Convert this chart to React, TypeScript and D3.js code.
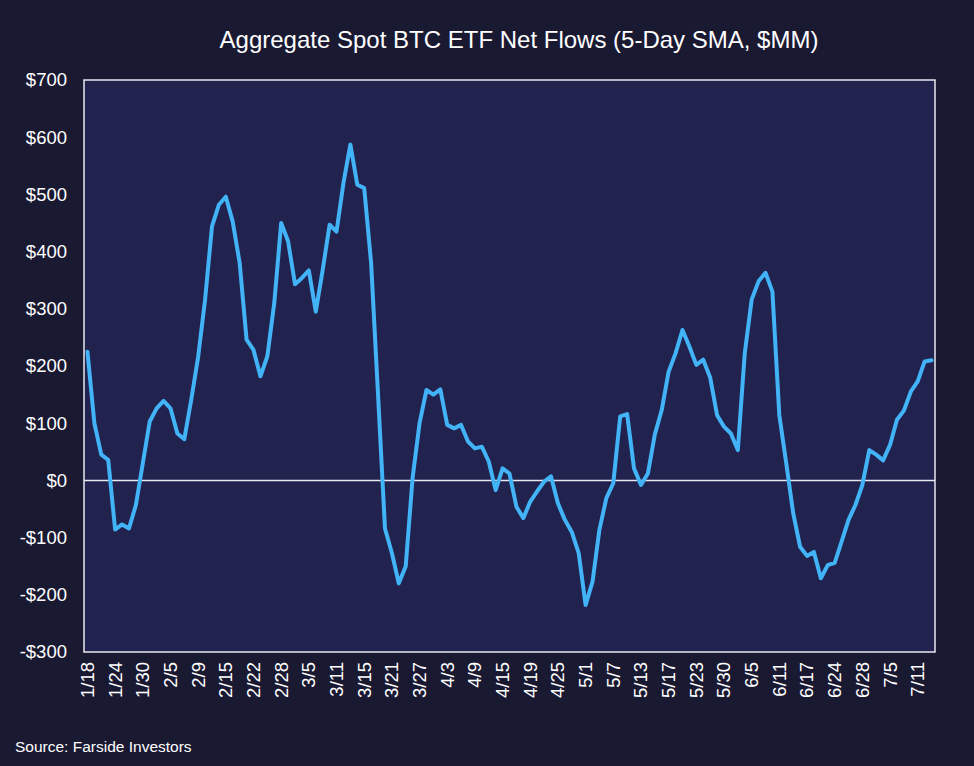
import React from "react";
import * as d3 from "d3";

const dates: string[] = [
  "1/18","1/19","1/22","1/23","1/24","1/25","1/26","1/29","1/30","1/31",
  "2/1","2/2","2/5","2/6","2/7","2/8","2/9","2/12","2/13","2/14","2/15","2/16","2/20","2/21","2/22","2/23","2/26","2/27","2/28","2/29",
  "3/1","3/4","3/5","3/6","3/7","3/8","3/11","3/12","3/13","3/14","3/15","3/18","3/19","3/20","3/21","3/22","3/25","3/26","3/27","3/28",
  "4/1","4/2","4/3","4/4","4/5","4/8","4/9","4/10","4/11","4/12","4/15","4/16","4/17","4/18","4/19","4/22","4/23","4/24","4/25","4/26","4/29","4/30",
  "5/1","5/2","5/3","5/6","5/7","5/8","5/9","5/10","5/13","5/14","5/15","5/16","5/17","5/20","5/21","5/22","5/23","5/24","5/28","5/29","5/30","5/31",
  "6/3","6/4","6/5","6/6","6/7","6/10","6/11","6/12","6/13","6/14","6/17","6/18","6/20","6/21","6/24","6/25","6/26","6/27","6/28",
  "7/1","7/2","7/3","7/5","7/8","7/9","7/10","7/11","7/12","7/15",
];

const netFlowsSMA: number[] = [
  225, 100, 45, 36, -86, -77, -84, -43, 30, 103,
  126, 139, 126, 82, 72, 141, 216, 316, 444, 482,
  496, 452, 380, 246, 228, 182, 217, 310, 450, 418,
  343, 354, 367, 295, 368, 447, 435, 520, 587, 517,
  511, 380, 150, -84, -127, -180, -150, 5, 100, 158,
  150, 159, 97, 91, 97, 68, 56, 59, 33, -17,
  21, 12, -46, -66, -37, -19, -2, 7, -40, -69,
  -90, -127, -218, -177, -86, -31, -5, 112, 116, 21,
  -8, 12, 80, 123, 190, 222, 263, 234, 202, 211,
  180, 114, 94, 82, 53, 222, 316, 348, 363, 330,
  114, 30, -57, -116, -132, -125, -171, -148, -144, -107,
  -69, -43, -8, 53, 45, 35, 62, 106, 122, 155,
  173, 208, 210,
];

const xTickLabels: string[] = [
  "1/18","1/24","1/30","2/5","2/9","2/15","2/22","2/28","3/5","3/11","3/15",
  "3/21","3/27","4/3","4/9","4/15","4/19","4/25","5/1","5/7","5/13","5/17",
  "5/23","5/30","6/5","6/11","6/17","6/24","6/28","7/5","7/11",
];

const yTicks: number[] = [-300, -200, -100, 0, 100, 200, 300, 400, 500, 600, 700];

const W = 974;
const H = 766;
const plot = { left: 84, right: 935, top: 80, bottom: 652 };
const FONT = "'Liberation Sans', Arial, sans-serif";

export default function App() {
  const x = d3
    .scalePoint<string>()
    .domain(dates)
    .range([plot.left, plot.right])
    .padding(0.5);
  const y = d3.scaleLinear().domain([-300, 700]).range([plot.bottom, plot.top]);

  const line = d3
    .line<number>()
    .x((_, i) => x(dates[i]) as number)
    .y((d) => y(d));

  const fmt = (v: number) => (v < 0 ? `-$${Math.abs(v)}` : `$${v}`);

  return (
    <svg
      width={W}
      height={H}
      style={{ position: "fixed", left: 0, top: 0, display: "block" }}
      fontFamily={FONT}
    >
      <rect x={0} y={0} width={W} height={H} fill="#1a1932" />
      <rect
        x={plot.left}
        y={plot.top}
        width={plot.right - plot.left}
        height={plot.bottom - plot.top}
        fill="#21224e"
        stroke="#e8e8f0"
        strokeWidth={1.5}
      />
      <line
        x1={plot.left}
        x2={plot.right}
        y1={y(0)}
        y2={y(0)}
        stroke="#e8e8f0"
        strokeWidth={1.5}
      />
      <path
        d={line(netFlowsSMA) || ""}
        fill="none"
        stroke="#41b3f6"
        strokeWidth={4}
        strokeLinejoin="round"
        strokeLinecap="round"
      />
      <text
        x={519}
        y={48}
        textAnchor="middle"
        fill="#ffffff"
        fontSize={24}
      >
        Aggregate Spot BTC ETF Net Flows (5-Day SMA, $MM)
      </text>
      {yTicks.map((t) => (
        <text
          key={t}
          x={67}
          y={y(t)}
          dy="0.35em"
          textAnchor="end"
          fill="#ffffff"
          fontSize={18.5}
        >
          {fmt(t)}
        </text>
      ))}
      {xTickLabels.map((d) => (
        <text
          key={d}
          transform={`translate(${x(d)},${662}) rotate(-90)`}
          dy="0.35em"
          textAnchor="end"
          fill="#ffffff"
          fontSize={18.5}
        >
          {d}
        </text>
      ))}
      <text x={15} y={752} fill="#ffffff" fontSize={15.5}>
        Source: Farside Investors
      </text>
    </svg>
  );
}
